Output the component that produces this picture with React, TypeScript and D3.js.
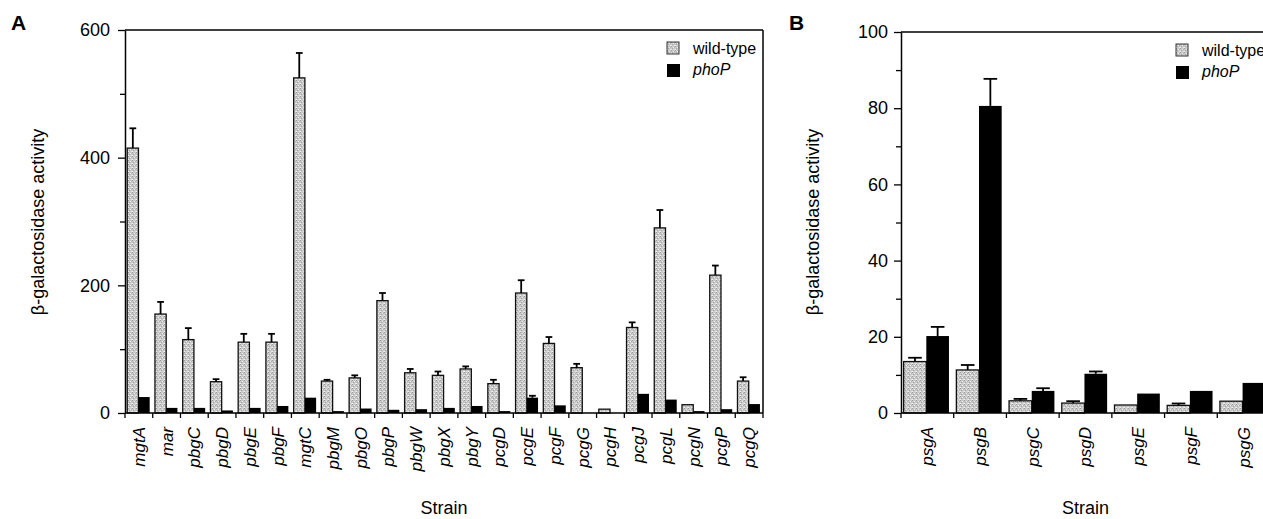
import React, { useEffect, useRef } from 'react';
import * as d3 from 'd3';

// Panel A
const strainsA = ['mgtA', 'mar', 'pbgC', 'pbgD', 'pbgE', 'pbgF', 'mgtC', 'pbgM', 'pbgO', 'pbgP', 'pbgW', 'pbgX',
  'pbgY', 'pcgD', 'pcgE', 'pcgF', 'pcgG', 'pcgH', 'pcgJ', 'pcgL', 'pcgN', 'pcgP', 'pcgQ'];
const wildTypeA = [415, 155, 115, 49, 111, 111, 525, 50, 55, 176, 63, 59, 69, 46, 188, 109, 71, 6, 134, 290, 13, 216, 50];
const wildTypeErrA = [31, 19, 18, 4, 13, 13, 39, 2, 4, 12, 6, 6, 4, 6, 20, 10, 6, 0, 8, 28, 0, 15, 6];
const phoPA = [25, 8, 8, 4, 8, 11, 24, 3, 7, 5, 6, 8, 11, 3, 24, 12, 0, 0, 30, 21, 3, 6, 14];
const phoPErrA = [0, 0, 0, 0, 0, 0, 0, 0, 0, 0, 0, 0, 0, 0, 3, 0, 0, 0, 0, 0, 0, 0, 0];
const majorTicksA = [0, 200, 400, 600];
const minorTicksA = [100, 300, 500];

// Panel B
const strainsB = ['psgA', 'psgB', 'psgC', 'psgD', 'psgE', 'psgF', 'psgG'];
const wildTypeB = [13.5, 11.3, 3.2, 2.6, 2.1, 2.0, 3.1];
const wildTypeErrB = [1.0, 1.3, 0.5, 0.5, 0, 0.5, 0];
const phoPB = [20.2, 80.6, 5.8, 10.3, 5.1, 5.8, 7.9];
const phoPErrB = [2.4, 7.1, 0.7, 0.6, 0, 0, 0];
const majorTicksB = [0, 20, 40, 60, 80, 100];
const minorTicksB = [10, 30, 50, 70, 90];

const FONT = '"Liberation Sans", Arial, Helvetica, sans-serif';

function drawPanel(svg, p) {
  const g = svg.append('g');

  const x = d3.scaleBand().domain(p.strains).range([p.left, p.right]).padding(0);
  const y = d3.scaleLinear().domain([0, p.yMax]).range([p.bottom, p.top]);
  const bw = x.bandwidth();
  const barW = bw * p.barFrac;

  // frame lines (top / right)
  g.append('line').attr('x1', p.left).attr('x2', p.frameRight).attr('y1', p.top).attr('y2', p.top)
    .attr('stroke', '#000').attr('stroke-width', 1.5);
  if (p.closed) {
    g.append('line').attr('x1', p.right).attr('x2', p.right).attr('y1', p.top).attr('y2', p.bottom)
      .attr('stroke', '#000').attr('stroke-width', 1.5);
  }

  const groups = g.selectAll('g.strain').data(p.strains).join('g').attr('class', 'strain');

  // wild-type bars
  groups.append('rect')
    .attr('x', (d) => x(d) + bw * p.offset)
    .attr('y', (d, i) => y(p.wt[i]))
    .attr('width', barW)
    .attr('height', (d, i) => y(0) - y(p.wt[i]))
    .attr('fill', 'url(#stipple)')
    .attr('stroke', '#111')
    .attr('stroke-width', 1.3);

  // phoP bars
  groups.append('rect')
    .attr('x', (d) => x(d) + bw * p.offset + barW)
    .attr('y', (d, i) => y(p.phoP[i]))
    .attr('width', barW)
    .attr('height', (d, i) => y(0) - y(p.phoP[i]))
    .attr('fill', '#000');

  // error bars
  const errs = [];
  p.strains.forEach((s, i) => {
    if (p.wtErr[i] > 0) errs.push({ cx: x(s) + bw * p.offset + barW / 2, v: p.wt[i], e: p.wtErr[i] });
    if (p.phoPErr[i] > 0) errs.push({ cx: x(s) + bw * p.offset + barW * 1.5, v: p.phoP[i], e: p.phoPErr[i] });
  });
  const eb = g.selectAll('g.err').data(errs).join('g').attr('class', 'err')
    .attr('stroke', '#000').attr('stroke-width', 1.8);
  eb.append('line').attr('x1', (d) => d.cx).attr('x2', (d) => d.cx)
    .attr('y1', (d) => y(d.v)).attr('y2', (d) => y(d.v + d.e));
  eb.append('line').attr('x1', (d) => d.cx - barW * 0.3).attr('x2', (d) => d.cx + barW * 0.3)
    .attr('y1', (d) => y(d.v + d.e)).attr('y2', (d) => y(d.v + d.e));

  // y axis
  const yAxis = g.append('g').attr('transform', `translate(${p.left},0)`)
    .call(d3.axisLeft(y).tickValues(p.major).tickSize(7).tickSizeOuter(0).tickPadding(p.tickPad)
      .tickFormat(d3.format('d')));
  g.append('g').attr('transform', `translate(${p.left},0)`)
    .call(d3.axisLeft(y).tickValues(p.minor).tickSize(5).tickSizeOuter(0).tickFormat(() => ''))
    .call((a) => a.select('.domain').remove());
  yAxis.select('.domain').attr('stroke-width', 1.5);
  g.selectAll('.tick line').attr('stroke-width', 1.3);
  yAxis.selectAll('text').attr('font-family', FONT).attr('font-size', 18).attr('fill', '#000');

  // x axis
  g.append('line').attr('x1', p.left).attr('x2', p.frameRight).attr('y1', p.bottom).attr('y2', p.bottom)
    .attr('stroke', '#000').attr('stroke-width', 1.5);
  const ticks = p.strains.map((s) => x(s)).concat([p.right]);
  g.selectAll('line.xtick').data(ticks).join('line').attr('class', 'xtick')
    .attr('x1', (d) => d).attr('x2', (d) => d).attr('y1', p.bottom).attr('y2', p.bottom + 5)
    .attr('stroke', '#000').attr('stroke-width', 1.3);
  g.selectAll('text.xlab').data(p.strains).join('text').attr('class', 'xlab')
    .attr('transform', (d) => `translate(${x(d) + bw / 2},${p.bottom + 14}) rotate(-90)`)
    .attr('dy', '0.35em')
    .attr('text-anchor', 'end')
    .attr('font-family', FONT).attr('font-size', 17).attr('font-style', 'italic')
    .text((d) => d);

  // axis titles
  g.append('text').attr('x', (p.left + p.right) / 2).attr('y', 514).attr('text-anchor', 'middle')
    .attr('font-family', FONT).attr('font-size', 18).text('Strain');
  g.append('text').attr('transform', `translate(${p.titleX},222) rotate(-90)`)
    .attr('dy', '0.35em').attr('text-anchor', 'middle')
    .attr('font-family', FONT).attr('font-size', 18).text('β-galactosidase activity');

  // panel letter
  g.append('text').attr('x', p.letterX).attr('y', 30).attr('font-family', FONT)
    .attr('font-size', 21).attr('font-weight', 'bold').text(p.letter);

  // legend
  const lg = g.append('g').attr('transform', `translate(${p.legendX},${p.legendY})`);
  lg.append('rect').attr('x', 0).attr('y', 0).attr('width', 12).attr('height', 12)
    .attr('fill', 'url(#stipple)').attr('stroke', '#333').attr('stroke-width', 1);
  lg.append('rect').attr('x', 0).attr('y', 22).attr('width', 13).attr('height', 13).attr('fill', '#000');
  lg.append('text').attr('x', 26).attr('y', 12).attr('font-family', FONT).attr('font-size', 16).text('wild-type');
  lg.append('text').attr('x', 26).attr('y', 33).attr('font-family', FONT).attr('font-size', 16)
    .attr('font-style', 'italic').text('phoP');
}

export default function App() {
  const ref = useRef(null);

  useEffect(() => {
    const svg = d3.select(ref.current);
    svg.selectAll('*').remove();

    // stippled grey fill for wild-type bars
    const pat = svg.append('defs').append('pattern').attr('id', 'stipple')
      .attr('patternUnits', 'userSpaceOnUse').attr('width', 4).attr('height', 4);
    pat.append('rect').attr('width', 4).attr('height', 4).attr('fill', '#c9c9c9');
    [[0, 0, '#9c9c9c'], [2, 1, '#ececec'], [1, 2, '#a6a6a6'], [3, 3, '#e2e2e2'], [3, 1, '#b0b0b0'], [0, 3, '#f0f0f0']]
      .forEach(([px, py, c]) => pat.append('rect').attr('x', px).attr('y', py).attr('width', 1).attr('height', 1).attr('fill', c));

    drawPanel(svg, {
      strains: strainsA, wt: wildTypeA, wtErr: wildTypeErrA, phoP: phoPA, phoPErr: phoPErrA,
      yMax: 600, major: majorTicksA, minor: minorTicksA,
      left: 125, right: 763, frameRight: 763, top: 30, bottom: 413, closed: true,
      offset: 0.08, barFrac: 0.405, tickPad: 8, titleX: 38,
      letter: 'A', letterX: 11, legendX: 667, legendY: 42,
    });
    drawPanel(svg, {
      strains: strainsB, wt: wildTypeB, wtErr: wildTypeErrB, phoP: phoPB, phoPErr: phoPErrB,
      yMax: 100, major: majorTicksB, minor: minorTicksB,
      left: 901, right: 1270, frameRight: 1270, top: 32, bottom: 413, closed: false,
      offset: 0.05, barFrac: 0.43, tickPad: 6, titleX: 813,
      letter: 'B', letterX: 789, legendX: 1176, legendY: 44,
    });
  }, []);

  return (
    <svg ref={ref} width={1263} height={519}
      style={{ position: 'absolute', left: 0, top: 0, background: '#fff' }} />
  );
}
